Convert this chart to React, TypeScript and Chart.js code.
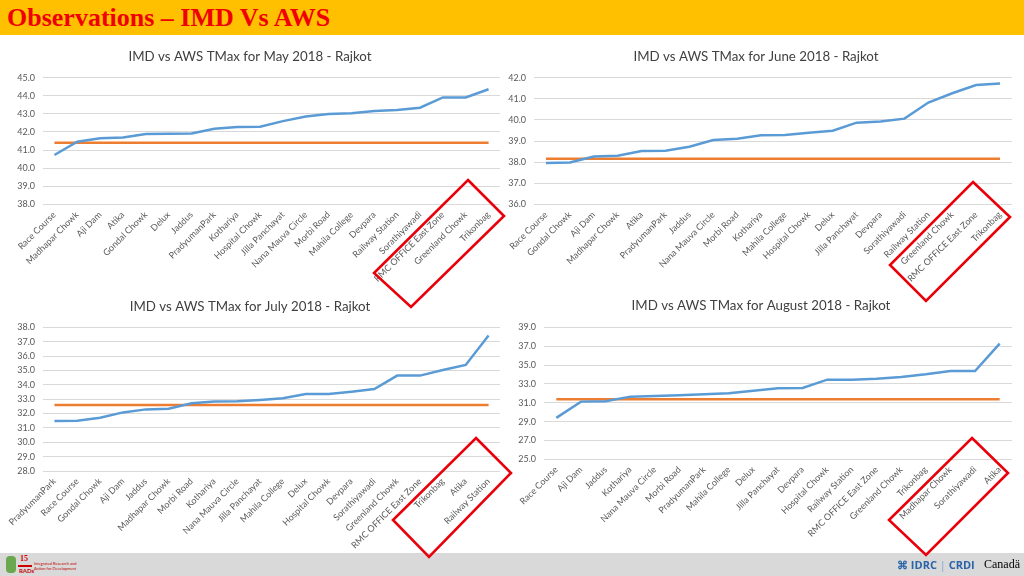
import React, { useEffect, useRef } from "react";
import { Chart, registerables } from "chart.js";

Chart.register(...registerables);

// ---------- DATA ----------
const mayStations = ["Race Course", "Madhapar Chowk", "Aji Dam", "Atika", "Gondal Chowk", "Delux", "Jaddus", "PradyumanPark", "Kothariya", "Hospital Chowk", "Jilla Panchayat", "Nana Mauva Circle", "Morbi Road", "Mahila College", "Devpara", "Railway Station", "Sorathiyawadi", "RMC OFFICE East Zone", "Greenland Chowk", "Trikonbag"];
const mayAws = [40.73, 41.46, 41.65, 41.7, 41.89, 41.9, 41.92, 42.18, 42.27, 42.29, 42.6, 42.86, 42.99, 43.03, 43.16, 43.21, 43.34, 43.91, 43.91, 44.36];
const mayImd = [41.4, 41.4, 41.4, 41.4, 41.4, 41.4, 41.4, 41.4, 41.4, 41.4, 41.4, 41.4, 41.4, 41.4, 41.4, 41.4, 41.4, 41.4, 41.4, 41.4];

const juneStations = ["Race Course", "Gondal Chowk", "Aji Dam", "Madhapar Chowk", "Atika", "PradyumanPark", "Jaddus", "Nana Mauva Circle", "Morbi Road", "Kothariya", "Mahila College", "Hospital Chowk", "Delux", "Jilla Panchayat", "Devpara", "Sorathiyawadi", "Railway Station", "Greenland Chowk", "RMC OFFICE East Zone", "Trikonbag"];
const juneAws = [37.96, 37.98, 38.27, 38.3, 38.53, 38.54, 38.73, 39.05, 39.11, 39.27, 39.28, 39.39, 39.49, 39.87, 39.92, 40.06, 40.82, 41.26, 41.65, 41.72];
const juneImd = [38.16, 38.16, 38.16, 38.16, 38.16, 38.16, 38.16, 38.16, 38.16, 38.16, 38.16, 38.16, 38.16, 38.16, 38.16, 38.16, 38.16, 38.16, 38.16, 38.16];

const julyStations = ["PradyumanPark", "Race Course", "Gondal Chowk", "Aji Dam", "Jaddus", "Madhapar Chowk", "Morbi Road", "Kothariya", "Nana Mauva Circle", "Jilla Panchayat", "Mahila College", "Delux", "Hospital Chowk", "Devpara", "Sorathiyawadi", "Greenland Chowk", "RMC OFFICE East Zone", "Trikonbag", "Atika", "Railway Station"];
const julyAws = [31.48, 31.5, 31.71, 32.08, 32.29, 32.34, 32.71, 32.83, 32.85, 32.94, 33.06, 33.36, 33.36, 33.52, 33.71, 34.64, 34.64, 35.03, 35.38, 37.44];
const julyImd = [32.6, 32.6, 32.6, 32.6, 32.6, 32.6, 32.6, 32.6, 32.6, 32.6, 32.6, 32.6, 32.6, 32.6, 32.6, 32.6, 32.6, 32.6, 32.6, 32.6];

const augStations = ["Race Course", "Aji Dam", "Jaddus", "Kothariya", "Nana Mauva Circle", "Morbi Road", "PradyumanPark", "Mahila College", "Delux", "Jilla Panchayat", "Devpara", "Hospital Chowk", "Railway Station", "RMC OFFICE East Zone", "Greenland Chowk", "Trikonbag", "Madhapar Chowk", "Sorathiyawadi", "Atika"];
const augAws = [29.4, 31.12, 31.15, 31.65, 31.72, 31.79, 31.9, 32.0, 32.28, 32.53, 32.57, 33.45, 33.45, 33.56, 33.73, 34.02, 34.37, 34.37, 37.27];
const augImd = [31.36, 31.36, 31.36, 31.36, 31.36, 31.36, 31.36, 31.36, 31.36, 31.36, 31.36, 31.36, 31.36, 31.36, 31.36, 31.36, 31.36, 31.36, 31.36];

const FONT = "Lato, 'Open Sans', sans-serif";
const AWS_COLOR = "#5B9BD5";
const IMD_COLOR = "#ED7D31";

type Box = { left: number; top: number; width: number; height: number };
type Spec = {
  title: string;
  labels: string[];
  aws: number[];
  imd: number[];
  min: number;
  max: number;
  step: number;
  box: Box;
  padTop: number;
  padBottom: number;
  yWidth: number;
  xHeight: number;
  padRight: number;
};

function LineChart({ spec }: { spec: Spec }) {
  const ref = useRef<HTMLCanvasElement | null>(null);
  useEffect(() => {
    if (!ref.current) return;
    const chart = new Chart(ref.current, {
      type: "line",
      data: {
        labels: spec.labels,
        datasets: [
          {
            label: "AWS",
            data: spec.aws,
            borderColor: AWS_COLOR,
            backgroundColor: AWS_COLOR,
            borderWidth: 2.5,
            pointRadius: 0,
            tension: 0,
          },
          {
            label: "IMD",
            data: spec.imd,
            borderColor: IMD_COLOR,
            backgroundColor: IMD_COLOR,
            borderWidth: 2.5,
            pointRadius: 0,
            tension: 0,
          },
        ],
      },
      options: {
        responsive: false,
        animation: false,
        devicePixelRatio: 1,
        layout: { padding: { left: 0, top: 0, right: spec.padRight, bottom: 0 } },
        plugins: {
          legend: { display: false },
          tooltip: { enabled: false },
          title: {
            display: true,
            text: spec.title,
            color: "#404040",
            font: { family: FONT, size: 13.3, weight: "normal", lineHeight: 1.2 },
            padding: { top: spec.padTop, bottom: spec.padBottom },
          },
        },
        scales: {
          x: {
            offset: true,
            grid: { display: false, drawTicks: false },
            border: { display: false },
            ticks: {
              autoSkip: false,
              minRotation: 45,
              maxRotation: 45,
              padding: 5,
              color: "#595959",
              font: { family: FONT, size: 9 },
            },
            afterFit: (s: any) => {
              s.height = spec.xHeight;
            },
          },
          y: {
            min: spec.min,
            max: spec.max,
            grid: { color: "#D9D9D9", lineWidth: 1, drawTicks: false },
            border: { display: false },
            ticks: {
              stepSize: spec.step,
              padding: 8,
              color: "#595959",
              font: { family: FONT, size: 9 },
              callback: (v: any) => Number(v).toFixed(1),
            },
            afterFit: (s: any) => {
              s.width = spec.yWidth;
            },
          },
        },
      },
    });
    return () => chart.destroy();
  }, [spec]);
  return (
    <canvas
      ref={ref}
      width={spec.box.width}
      height={spec.box.height}
      style={{
        position: "absolute",
        left: spec.box.left,
        top: spec.box.top,
        width: spec.box.width,
        height: spec.box.height,
      }}
    />
  );
}

const specs: Spec[] = [
  {
    title: "IMD vs AWS TMax for May 2018 - Rajkot",
    labels: mayStations, aws: mayAws, imd: mayImd,
    min: 38, max: 45, step: 1,
    box: { left: 0, top: 40, width: 523, height: 250 },
    padTop: 8.4, padBottom: 13.3, yWidth: 43, xHeight: 85.6, padRight: 23,
  },
  {
    title: "IMD vs AWS TMax for June 2018 - Rajkot",
    labels: juneStations, aws: juneAws, imd: juneImd,
    min: 36, max: 42, step: 1,
    box: { left: 500, top: 40, width: 524, height: 250 },
    padTop: 8.4, padBottom: 13.3, yWidth: 34, xHeight: 85.6, padRight: 12,
  },
  {
    title: "IMD vs AWS TMax for July 2018 - Rajkot",
    labels: julyStations, aws: julyAws, imd: julyImd,
    min: 28, max: 38, step: 1,
    box: { left: 0, top: 290, width: 512, height: 263 },
    padTop: 8.4, padBottom: 13.0, yWidth: 43, xHeight: 82, padRight: 12,
  },
  {
    title: "IMD vs AWS TMax for August 2018 - Rajkot",
    labels: augStations, aws: augAws, imd: augImd,
    min: 25, max: 39, step: 2,
    box: { left: 510, top: 290, width: 514, height: 263 },
    padTop: 7.8, padBottom: 13.6, yWidth: 34, xHeight: 93.7, padRight: 12,
  },
];

const redBoxes = [
  "468,180 504,216 411,307 374,273",
  "973,182 1010,217 926,301 890,265",
  "476,438 511,473 429,557 393,520",
  "972,438 1008,473 926,555 889,520",
];

export default function App() {
  return (
    <div
      style={{
        position: "fixed",
        left: 0,
        top: 0,
        width: 1024,
        height: 576,
        background: "#FFFFFF",
        overflow: "hidden",
      }}
    >
      <div
        style={{
          position: "absolute",
          left: 0,
          top: 0,
          width: 1024,
          height: 35,
          background: "#FFC000",
        }}
      />
      <div
        style={{
          position: "absolute",
          left: 7,
          top: 3,
          fontFamily: "'Liberation Serif', 'Times New Roman', serif",
          fontWeight: "bold",
          fontSize: 26,
          color: "#F00000",
          whiteSpace: "nowrap",
          lineHeight: "30px",
        }}
      >
        Observations – IMD Vs AWS
      </div>
      {specs.map((s, i) => (
        <LineChart key={i} spec={s} />
      ))}
      <div
        style={{
          position: "absolute",
          left: 0,
          top: 553,
          width: 1024,
          height: 23,
          background: "#D9D9D9",
        }}
      />
      <div style={{ position: "absolute", left: 6, top: 556, width: 10, height: 17, background: "#6AA84F", borderRadius: 4 }} />
      <div style={{ position: "absolute", left: 20, top: 554, fontFamily: "'Liberation Serif', serif", fontWeight: "bold", fontSize: 8, color: "#D00000" }}>15</div>
      <div style={{ position: "absolute", left: 18, top: 565, width: 14, height: 2, background: "#D00000" }} />
      <div style={{ position: "absolute", left: 19, top: 567, fontFamily: FONT, fontWeight: "bold", fontSize: 6, color: "#C00000" }}>RADs</div>
      <div style={{ position: "absolute", left: 34, top: 561, fontFamily: FONT, fontSize: 4, color: "#C00000", lineHeight: "5px" }}>
        Integrated Research and<br />Action for Development
      </div>
      <div
        style={{
          position: "absolute",
          left: 897,
          top: 558,
          fontFamily: "'Open Sans', sans-serif",
          fontWeight: "bold",
          fontSize: 11,
          color: "#2A64A8",
          whiteSpace: "nowrap",
          lineHeight: "14px",
        }}
      >
        ⌘ IDRC <span style={{ fontWeight: "normal", color: "#7EA6D0" }}>|</span> CRDI
      </div>
      <div
        style={{
          position: "absolute",
          left: 984,
          top: 557,
          fontFamily: "'Liberation Serif', serif",
          fontSize: 12,
          color: "#000000",
          whiteSpace: "nowrap",
          lineHeight: "14px",
        }}
      >
        Canadä
      </div>
      <svg
        width={1024}
        height={576}
        style={{ position: "absolute", left: 0, top: 0, pointerEvents: "none" }}
      >
        {redBoxes.map((p, i) => (
          <polygon key={i} points={p} fill="none" stroke="#E8000B" strokeWidth={2.6} />
        ))}
      </svg>
    </div>
  );
}
